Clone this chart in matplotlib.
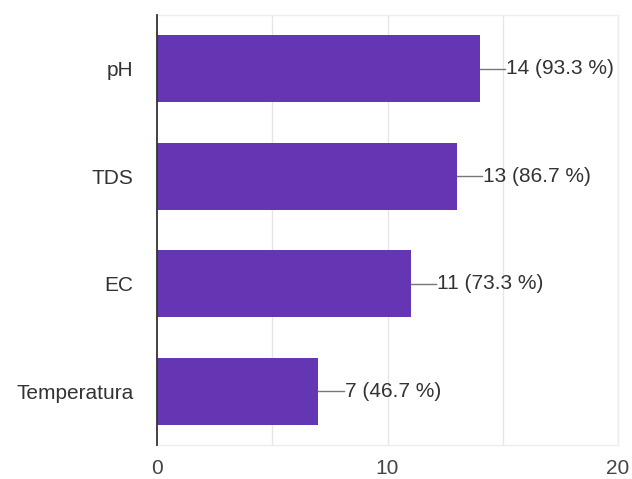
import matplotlib
matplotlib.use("Agg")
import matplotlib.pyplot as plt

categories = ["pH", "TDS", "EC", "Temperatura"]
counts = [14, 13, 11, 7]
percents = [93.3, 86.7, 73.3, 46.7]
x_ticks = [0, 10, 20]

plt.rcParams["font.family"] = ["Liberation Sans", "DejaVu Sans"]

fig = plt.figure(figsize=(6.32, 4.79), dpi=100)
ax = fig.add_axes([157 / 632, 1 - 445 / 479, (618 - 157) / 632, 430 / 479])

ypos = list(range(len(categories)))
ax.barh(ypos, counts, height=0.62, color="#6436B4", zorder=3)

ax.set_xlim(0, 20)
ax.set_ylim(len(categories) - 0.5, -0.5)
ax.set_yticks(ypos)
ax.set_yticklabels(categories, fontsize=15, color="#333333")
ax.set_xticks(x_ticks)
ax.set_xticklabels([str(t) for t in x_ticks], fontsize=15, color="#444444")
ax.tick_params(axis="both", length=0)
ax.tick_params(axis="y", pad=17)
ax.tick_params(axis="x", pad=10)

for gx in [5, 10, 15, 20]:
    ax.axvline(gx, color="#e6e6e6", lw=1, zorder=1)

for s in ["top", "right", "bottom"]:
    ax.spines[s].set_color("#eeeeee")
    ax.spines[s].set_linewidth(1)
ax.spines["left"].set_color("#333333")
ax.spines["left"].set_linewidth(1.3)
ax.spines["left"].set_zorder(4)

for y, c, p in zip(ypos, counts, percents):
    ax.plot([c, c + 1.1], [y, y], color="#777777", lw=1, zorder=3, clip_on=False)
    ax.text(c + 1.15, y, f"{c} ({p} %)", va="center", ha="left",
            fontsize=15, color="#333333")

fig.savefig("out.png", dpi=100, facecolor="white")
